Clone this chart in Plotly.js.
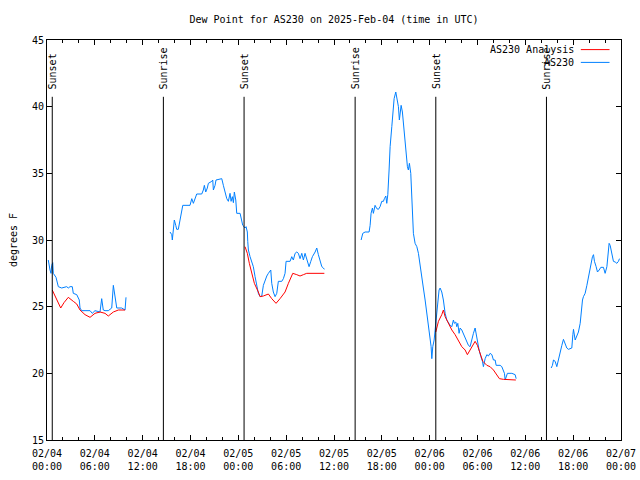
<!DOCTYPE html>
<html>
<head>
<meta charset="utf-8">
<script src="https://cdn.plot.ly/plotly-3.0.1.min.js"></script>
<style>html,body{margin:0;padding:0;background:#fff;}#chart{width:640px;height:480px;}</style>
</head>
<body>
<div id="chart"></div>
<script>
// Hours since 2025-02-04 00:00 UTC; null marks a gap in the record
const blueHours = [
 0.16,0.25,0.38,0.5,0.59,0.72,0.79,1.13,1.29,1.42,1.84,2.47,2.67,2.89,3.17,3.3,3.73,4.05,4.14,4.35,4.77,5.4,5.68,6.02,6.65,6.86,7.06,7.28,7.69,8.12,8.32,8.53,8.75,9.37,9.79,9.91,
 null,
 15.43,15.65,15.72,15.85,15.97,16.15,16.27,16.47,16.69,16.9,17.03,17.94,18.16,18.36,18.57,18.78,19.41,19.61,19.74,19.91,20.11,20.24,20.67,20.79,20.87,21.08,21.2,21.92,22.12,22.33,22.55,22.75,22.96,23.09,23.25,23.38,23.5,23.68,23.8,24.22,24.43,24.55,24.72,24.84,24.97,25.13,25.18,25.26,25.47,25.68,25.88,26.1,26.31,26.51,26.73,26.94,27.14,27.35,27.57,27.77,28.07,28.19,28.39,28.61,28.82,29.02,29.45,29.65,29.86,29.99,30.49,30.7,30.9,31.12,31.33,31.53,31.74,31.96,32.16,32.37,32.58,32.87,33.09,33.29,33.63,33.84,34.04,34.25,34.47,34.67,34.79,
 null,
 39.4,39.61,39.9,40.4,40.53,40.65,40.82,40.94,41.15,41.37,41.57,41.78,41.99,42.2,42.32,42.5,42.62,42.75,42.91,43.04,43.25,43.37,43.54,43.75,43.88,44.08,44.2,44.29,44.42,44.58,44.71,44.83,45.01,45.21,45.33,45.46,45.63,45.76,45.88,45.96,46.17,46.39,46.59,46.8,47.01,47.21,47.43,47.64,47.84,48.06,48.18,48.27,48.39,48.56,48.68,48.89,49.02,49.18,49.31,49.52,49.72,49.94,50.15,50.35,50.56,50.78,50.98,51.1,51.28,51.4,51.53,51.69,51.82,52.03,52.23,52.45,52.66,52.86,53.07,53.29,53.49,53.7,53.83,53.99,54.2,54.42,54.62,54.74,54.96,55.17,55.37,55.58,55.8,56.0,56.21,56.34,56.84,57.05,57.25,57.38,57.47,57.59,57.75,58.31,58.72,58.85,
 null,
 63.24,63.4,63.53,63.74,63.95,64.15,64.37,64.58,64.78,64.99,65.2,65.41,65.83,65.96,66.04,66.25,66.46,66.66,66.88,67.0,67.17,67.29,67.5,67.72,67.92,68.13,68.26,68.42,68.55,68.67,68.88,69.05,69.26,69.47,69.8,70.01,70.23,70.35,70.51,70.64,70.76,70.93,71.05,71.27,71.48,71.68,71.81
];
const blueDewF = [
 28.5,28.1,27.75,27.5,28.1,28.3,27.5,27.2,26.8,26.5,26.4,26.5,26.4,26.5,26.5,26.0,25.9,25.5,24.9,24.7,24.7,24.7,24.5,24.7,24.6,25.6,24.75,24.7,24.7,24.9,26.6,25.7,24.9,24.9,24.75,25.7,
 null,
 30.6,30.4,30.0,31.0,31.5,31.1,30.8,30.8,31.5,32.1,32.6,32.6,33.1,32.75,33.1,33.45,33.45,33.75,34.1,33.6,33.9,34.25,34.4,34.5,33.75,34.1,34.5,34.6,34.1,33.5,33.1,32.9,33.5,32.9,33.25,32.8,33.6,33.0,32.0,32.0,31.5,31.1,31.0,30.9,31.0,30.6,29.9,29.25,28.75,28.4,28.0,27.25,26.6,26.0,25.75,25.8,26.6,27.0,27.3,27.5,27.75,26.75,26.1,25.75,26.0,26.9,26.9,27.1,27.5,28.4,28.4,28.75,28.5,29.0,29.1,29.0,28.6,29.0,28.5,29.0,28.6,28.0,28.4,28.75,29.1,29.4,28.9,28.4,28.0,27.9,27.8,
 null,
 30.0,30.5,30.6,30.6,31.1,32.0,32.4,32.0,32.6,32.35,32.3,32.5,32.9,32.9,33.1,33.3,32.75,33.4,35.25,37.0,38.5,39.75,40.6,41.1,40.75,40.0,39.0,39.75,40.1,39.6,38.75,37.75,36.9,35.5,35.25,35.75,35.0,33.25,32.0,30.5,29.75,29.5,29.0,28.0,27.25,26.4,25.5,24.5,23.5,22.75,22.0,21.1,22.0,22.5,23.25,24.25,25.0,26.25,26.4,26.1,25.5,24.5,24.0,23.75,23.6,23.5,24.0,23.75,23.85,23.5,23.75,23.0,23.4,23.25,23.0,22.6,22.4,22.1,22.0,22.6,23.0,23.4,22.9,22.25,21.75,21.25,20.9,20.5,21.1,21.4,21.3,21.5,21.4,21.0,21.0,20.6,20.6,20.5,20.25,20.0,19.5,19.75,20.0,20.0,19.9,19.6,
 null,
 20.4,20.6,21.0,20.9,20.5,21.1,21.6,22.1,22.55,22.25,21.9,21.8,21.9,22.9,23.3,22.5,22.9,23.1,23.75,24.6,25.5,25.75,26.0,26.6,27.25,28.0,28.25,28.75,28.9,28.4,28.0,27.6,27.75,27.95,27.95,27.5,28.0,28.75,29.75,29.6,29.25,28.75,28.4,28.35,28.25,28.4,28.6
];
const redHours = [
 0.66,1.22,1.72,2.13,2.67,3.3,3.73,4.14,4.77,5.4,6.02,6.65,7.28,7.69,8.32,8.95,9.57,9.79,
 null,
 24.84,25.13,25.38,25.68,26.01,26.51,26.73,27.14,27.77,28.19,28.73,29.23,29.86,30.28,30.83,31.33,31.74,32.16,32.58,34.79,
 null,
 48.77,49.1,49.52,49.72,49.94,50.35,50.78,51.19,51.61,52.03,52.45,52.73,53.07,53.49,53.7,53.99,54.33,54.67,55.17,55.58,56.0,56.42,56.75,57.25,58.09,58.81
];
const redDewF = [
 26.25,25.6,24.9,25.3,25.7,25.4,25.2,24.75,24.4,24.2,24.5,24.6,24.5,24.3,24.6,24.75,24.75,24.75,
 null,
 29.5,29.0,28.25,27.5,26.75,26.1,25.75,25.8,25.95,25.6,25.25,25.6,26.1,26.75,27.5,27.4,27.3,27.4,27.5,27.5,
 null,
 23.1,23.9,24.4,24.75,24.25,23.75,23.25,22.9,22.4,22.0,21.75,21.4,21.75,22.25,22.4,22.1,21.5,20.9,20.6,20.5,20.25,19.9,19.6,19.55,19.5,19.5
];
const sunHours = [0.66, 14.6, 24.72, 38.65, 48.77, 62.65];
const sunLabels = ['Sunset','Sunrise','Sunset','Sunrise','Sunset','Sunrise'];
const seriesNames = ['AS230 Analysis', 'AS230'];
const seriesColors = ['#ff0000', '#0080ff'];

const BASE = Date.UTC(2025, 1, 4);
function toDate(h) {
  if (h === null) return null;
  const d = new Date(BASE + Math.round(h * 3600000));
  return d.toISOString().replace('T', ' ').slice(0, 19);
}

const FONT = 'DejaVu Sans Mono, Liberation Mono, monospace';

// blue drawn first, red on top (as in the reference)
const traces = [
  {x: blueHours.map(toDate), y: blueDewF, type: 'scatter', mode: 'lines', name: seriesNames[1],
   line: {color: seriesColors[1], width: 1}, connectgaps: false, showlegend: false, hoverinfo: 'skip'},
  {x: redHours.map(toDate), y: redDewF, type: 'scatter', mode: 'lines', name: seriesNames[0],
   line: {color: seriesColors[0], width: 1}, connectgaps: false, showlegend: false, hoverinfo: 'skip'}
];

const shapes = [];
const annotations = [];
sunHours.forEach((h, i) => {
  shapes.push({type: 'line', xref: 'x', yref: 'paper', x0: toDate(h), x1: toDate(h), y0: 0, y1: 0.858,
               line: {color: '#000', width: 1}});
  annotations.push({xref: 'x', yref: 'paper', x: toDate(h), y: 0.872, text: sunLabels[i], textangle: -90,
                    showarrow: false, xanchor: 'center', yanchor: 'bottom',
                    font: {family: FONT, size: 10, color: '#000'}});
});
// gnuplot-style key: text on the left, line sample on the right
const keyY = [0.976, 0.944];
seriesNames.forEach((n, i) => {
  annotations.push({xref: 'paper', yref: 'paper', x: 0.921, y: keyY[i], text: n, showarrow: false,
                    xanchor: 'right', yanchor: 'middle', font: {family: FONT, size: 10, color: '#000'}});
  shapes.push({type: 'line', xref: 'paper', yref: 'paper', x0: 0.93, x1: 0.98, y0: keyY[i], y1: keyY[i],
               line: {color: seriesColors[i], width: 1}});
});

const layout = {
  width: 640, height: 480,
  margin: {l: 47, r: 19, t: 40, b: 40},
  paper_bgcolor: '#fff', plot_bgcolor: '#fff',
  font: {family: FONT, size: 10, color: '#000'},
  showlegend: false,
  title: {text: 'Dew Point for AS230 on 2025-Feb-04 (time in UTC)', x: 0.5, xref: 'paper', xanchor: 'center',
          y: 0.96, yanchor: 'middle', font: {family: FONT, size: 10, color: '#000'}},
  xaxis: {
    type: 'date', range: ['2025-02-04 00:00:00', '2025-02-07 00:00:00'],
    tick0: '2025-02-04 00:00:00', dtick: 6 * 3600000, tickformat: '%m/%d<br>%H:%M',
    ticks: 'inside', ticklen: 5, tickcolor: '#000', tickwidth: 1, ticklabelstandoff: 4,
    minor: {dtick: 2 * 3600000, ticks: 'inside', ticklen: 3, tickcolor: '#000', showgrid: false},
    showgrid: false, zeroline: false, showline: true, linecolor: '#000', linewidth: 1, mirror: 'ticks',
    tickfont: {family: FONT, size: 10, color: '#000'}, automargin: false
  },
  yaxis: {
    range: [15, 45], dtick: 5, tick0: 15,
    ticks: 'inside', ticklen: 5, tickcolor: '#000', tickwidth: 1,
    showgrid: false, zeroline: false, showline: true, linecolor: '#000', linewidth: 1, mirror: 'ticks',
    tickfont: {family: FONT, size: 10, color: '#000'}, automargin: false,
    title: {text: 'degrees F', standoff: 12, font: {family: FONT, size: 10, color: '#000'}}
  },
  shapes: shapes,
  annotations: annotations
};

Plotly.newPlot('chart', traces, layout, {staticPlot: true, displayModeBar: false});
</script>
</body>
</html>
